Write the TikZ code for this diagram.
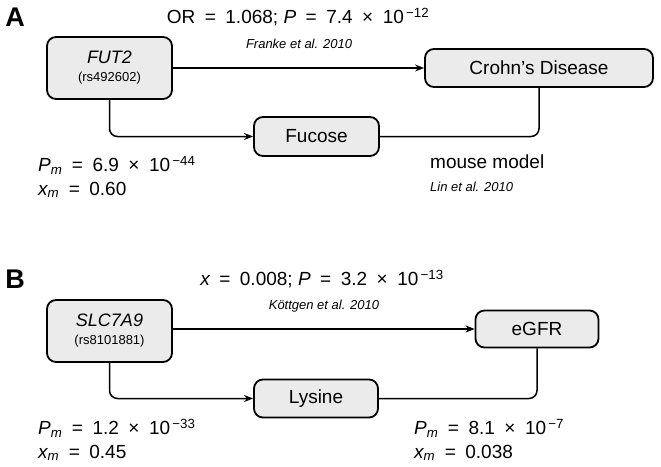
\documentclass[tikz,border=0pt]{standalone}
\usepackage{fontspec}
\setmainfont{Liberation Sans}
\usetikzlibrary{arrows.meta}
\definecolor{boxgray}{RGB}{235,235,235}
\newcommand{\eqs}{\hskip0.5em=\hskip0.5em}
\newcommand{\tms}{\hskip0.5em×\hskip0.5em}
\newcommand{\Pm}{{\itshape P}\textsubscript{\itshape m}}
\newcommand{\xm}{{\itshape x}\textsubscript{\itshape m}}
\newcommand{\tenpow}[1]{10\textsuperscript{\,−#1}}
\newcommand{\snp}[1]{{\fontsize{13}{15}\selectfont (#1)}}
\tikzset{
  box/.style={draw,line width=1.8pt,rounded corners=9pt,fill=boxgray,inner sep=0pt,
    font=\fontsize{19}{22}\selectfont},
  gene/.style={box,minimum width=125pt,minimum height=62pt,align=center},
  link/.style={line width=1.5pt,rounded corners=8pt},
  lab/.style={inner sep=0pt,font=\fontsize{19}{22}\selectfont},
  cite/.style={inner sep=0pt,font=\fontsize{13}{15}\selectfont\itshape},
  panel/.style={inner sep=0pt,font=\fontsize{27}{30}\selectfont\bfseries}
}
\begin{document}
\begin{tikzpicture}[x=1pt,y=-1pt,>={Stealth[length=9pt,width=7pt]}]
\useasboundingbox (0,0) rectangle (661,466);

\node[panel] (pa) at (15,17) {A};
\node[lab] (ta) at (298,17) {OR\eqs1.068; {\itshape P}\eqs7.4\tms\tenpow{12}};
\node[cite] (ca) at (299,44) {Franke et al. 2010};
\node[gene] (fut) at (109.5,68) {{\itshape\fontsize{18}{20}\selectfont FUT2}\\[-4pt]\snp{rs492602}};
\node[box,minimum width=228pt,minimum height=38pt] (cd) at (539,68) {Crohn’s Disease};
\node[box,minimum width=125pt,minimum height=39pt] (fuc) at (316.5,136.5) {Fucose};
\node[lab,anchor=west] (pma) at (38,165) {\Pm\eqs6.9\tms\tenpow{44}};
\node[lab,anchor=west] (xma) at (38,190) {\xm\eqs0.60};
\node[lab,anchor=west] (mm) at (430,162) {mouse model};
\node[cite,anchor=west] (lin) at (430,187) {Lin et al. 2010};
\draw[link,->] (fut) -- (cd);
\draw[link,->] (fut.south) |- (fuc.west);
\draw[link] (fuc.east) -| (cd.south);

\node[panel] (pb) at (15,279) {B};
\node[lab] (tb) at (322,279) {{\itshape x}\eqs0.008; {\itshape P}\eqs3.2\tms\tenpow{13}};
\node[cite] (cb) at (324,306) {Köttgen et al. 2010};
\node[gene] (slc) at (109.5,331) {{\itshape\fontsize{18}{20}\selectfont SLC7A9}\\[-4pt]\snp{rs8101881}};
\node[box,minimum width=123pt,minimum height=37pt] (egfr) at (537,329) {eGFR};
\node[box,minimum width=124pt,minimum height=38pt] (lys) at (316,398.5) {Lysine};
\node[lab,anchor=west] (pmb) at (38,428) {\Pm\eqs1.2\tms\tenpow{33}};
\node[lab,anchor=west] (xmb) at (38,453) {\xm\eqs0.45};
\node[lab,anchor=west] (pmc) at (414,428) {\Pm\eqs8.1\tms\tenpow{7}};
\node[lab,anchor=west] (xmc) at (414,453) {\xm\eqs0.038};
\draw[link,->] (slc.east|-egfr.west) -- (egfr.west);
\draw[link,->] (slc.south) |- (lys.west);
\draw[link] (lys.east) -| (egfr.south);
\end{tikzpicture}
\end{document}
